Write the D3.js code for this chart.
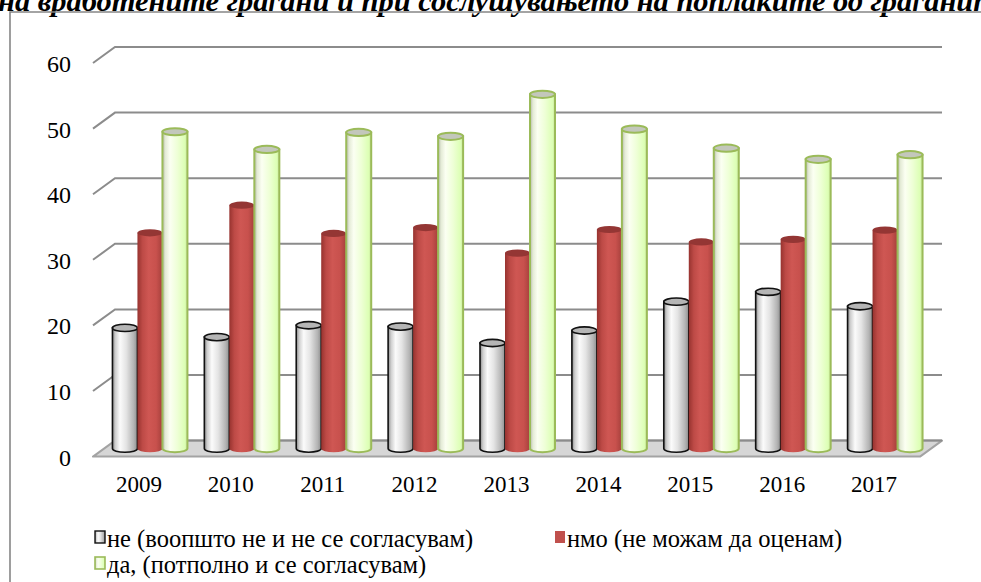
<!DOCTYPE html>
<html><head><meta charset="utf-8">
<script src="https://cdn.jsdelivr.net/npm/d3@7"></script>
<style>body{margin:0;background:#fff;} svg{display:block;}</style>
</head><body>
<script>
const titleText = "на вработените граѓани и при сослушувањето на поплаките од граѓаните";
const years = ["2009","2010","2011","2012","2013","2014","2015","2016","2017"];
const seriesNames = ["не (воопшто не и не се согласувам)", "нмо (не можам да оценам)", "да, (потполно и се согласувам)"];
const neValues  = [18.4, 17.0, 18.8, 18.6, 16.1, 18.0, 22.4, 23.9, 21.7];
const nmoValues = [32.9, 37.1, 32.8, 33.7, 29.8, 33.4, 31.5, 31.9, 33.3];
const daValues  = [48.3, 45.6, 48.2, 47.6, 54.0, 48.7, 45.8, 44.1, 44.8];
const yTicks = [0, 10, 20, 30, 40, 50, 60];

const W = 981, H = 582;
const FONT = "'Liberation Serif','Times New Roman',serif";
const svg = d3.select("body").append("svg").attr("width", W).attr("height", H);
const defs = svg.append("defs");

function grad(id, stops) {
  const g = defs.append("linearGradient").attr("id", id).attr("x1", "0%").attr("x2", "100%").attr("y1", "0%").attr("y2", "0%");
  stops.forEach(s => g.append("stop").attr("offset", s[0]).attr("stop-color", s[1]));
}
grad("gGray", [["0%","#8a8a8a"],["12%","#cfcfcf"],["30%","#fbfbfb"],["55%","#e4e4e4"],["85%","#b4b4b4"],["100%","#8e8e8e"]]);
grad("gRed", [["0%","#97332f"],["20%","#bd4a46"],["45%","#cf5753"],["75%","#c8514d"],["100%","#a5403c"]]);
grad("gGreen", [["0%","#b4b8aa"],["12%","#e4ebd6"],["30%","#fbfff2"],["60%","#eeffd6"],["90%","#dcffb4"],["100%","#c5df9a"]]);

const series = [
  {name: seriesNames[0], values: neValues, fill: "url(#gGray)", stroke: "#111", sw: 1.6, top: "#b5b5b5", topStroke: "#111"},
  {name: seriesNames[1], values: nmoValues, fill: "url(#gRed)", stroke: "none", sw: 0, top: "#943634", topStroke: "none"},
  {name: seriesNames[2], values: daValues, fill: "url(#gGreen)", stroke: "#9bbb59", sw: 2, top: "#c3c7bb", topStroke: "#9bbb59"}
];

// 3D geometry
const DX = 22, DY = -16;
const x = d3.scaleBand().domain(years).range([93, 920]).padding(0);
const y = d3.scaleLinear().domain([0, 60]).range([456.6, 63]);
const sub = d3.scaleBand().domain(seriesNames).range([-37.5, 37.5]).padding(0);

// title (clipped at top, as in the source)
svg.append("text").attr("x", -2).attr("y", 10.5)
  .attr("font-family", FONT).attr("font-size", 30).attr("font-weight", "bold").attr("font-style", "italic")
  .attr("textLength", 1012).attr("lengthAdjust", "spacingAndGlyphs")
  .attr("fill", "#000").text(titleText);

// frame
svg.append("path").attr("d", `M10,${H+5} V12 H${W+5}`).attr("fill", "none").attr("stroke", "#868686").attr("stroke-width", 1.6);

// floor
const x0 = x.range()[0], x1 = x.range()[1];
const y0 = y(0);
svg.append("path")
  .attr("d", `M${x0},${y0} L${x1},${y0} L${x1+DX},${y0+DY} L${x0+DX},${y0+DY} Z`)
  .attr("fill", "#d6d6d6").attr("stroke", "#a3a3a3").attr("stroke-width", 2).attr("stroke-linejoin", "round");

// gridlines
const grid = svg.append("g");
yTicks.forEach(t => {
  if (t === 0) {
    grid.append("line").attr("x1", x0 + DX).attr("x2", x1 + DX).attr("y1", y(t) + DY).attr("y2", y(t) + DY)
      .attr("stroke", "#8c8c8c").attr("stroke-width", 2);
    return;
  }
  grid.append("path")
    .attr("d", `M${x0},${y(t)} L${x0+DX},${y(t)+DY} L${x1+DX},${y(t)+DY}`)
    .attr("fill", "none").attr("stroke", "#8c8c8c").attr("stroke-width", 2);
});

// y labels
svg.append("g").selectAll("text").data(yTicks).join("text")
  .attr("x", 71).attr("y", d => y(d) + 1).attr("text-anchor", "end").attr("dominant-baseline", "central")
  .attr("font-family", FONT).attr("font-size", 24).attr("fill", "#000").text(d => d);

// bars (cylinders) at mid depth
const RY = 3.6;
const bars = svg.append("g");
years.forEach((yr, i) => {
  const cx = x(yr) + x.bandwidth() / 2 + DX / 2;
  series.forEach(s => {
    const bx = cx + sub(s.name);
    const w = sub.bandwidth();
    const base = y(0) + DY / 2;
    const top = y(s.values[i]) + DY / 2;
    bars.append("path")
      .attr("d", `M${bx},${top} L${bx},${base} A${w/2},${RY} 0 0 0 ${bx+w},${base} L${bx+w},${top} Z`)
      .attr("fill", s.fill).attr("stroke", s.stroke).attr("stroke-width", s.sw);
    bars.append("ellipse").attr("cx", bx + w / 2).attr("cy", top).attr("rx", w / 2).attr("ry", RY)
      .attr("fill", s.top).attr("stroke", s.topStroke).attr("stroke-width", s.sw);
  });
});

// x labels
svg.append("g").selectAll("text").data(years).join("text")
  .attr("x", d => x(d) + x.bandwidth() / 2).attr("y", 484).attr("text-anchor", "middle").attr("dominant-baseline", "central")
  .attr("font-family", FONT).attr("font-size", 23).attr("fill", "#000").text(d => d);

// legend
const legendPos = [{mx: 95, my: 537}, {mx: 555, my: 537}, {mx: 95, my: 563}];
const lg = svg.append("g");
series.forEach((s, i) => {
  const p = legendPos[i];
  lg.append("rect").attr("x", p.mx).attr("y", p.my - 6).attr("width", 10).attr("height", 12)
    .attr("fill", i === 0 ? "url(#gGray)" : (i === 1 ? "#c0504d" : "url(#gGreen)"))
    .attr("stroke", i === 0 ? "#111" : (i === 1 ? "none" : "#9bbb59")).attr("stroke-width", i === 0 ? 1.4 : 1.6);
  lg.append("text").attr("x", p.mx + 12).attr("y", p.my + 1).attr("dominant-baseline", "central")
    .attr("font-family", FONT).attr("font-size", 24.5).attr("fill", "#000").text(s.name);
});
</script>
</body></html>
